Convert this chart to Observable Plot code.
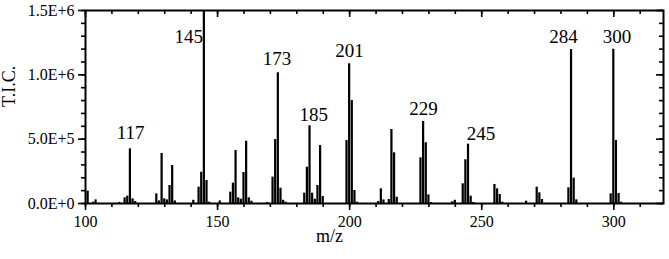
<!DOCTYPE html>
<html>
<head>
<meta charset="utf-8">
<script src="https://cdn.jsdelivr.net/npm/d3@7"></script>
<script src="https://cdn.jsdelivr.net/npm/@observablehq/plot@0.6"></script>
<style>
  html, body { margin: 0; padding: 0; background: #fff; }
  #chart { width: 669px; height: 259px; }
  #chart svg, #chart svg text { font-family: 'Liberation Serif', 'Times New Roman', serif !important; }
  #chart g[aria-label$="tick label"] { font-size: 16px !important; }
</style>
</head>
<body>
<div id="chart"></div>
<script>
// m/z values and total ion counts
const mz = [101,103,104,113,115,116,117,118,119,127,128,129,130,131,132,133,134,
  141,143,144,145,146,147,151,155,156,157,158,159,160,161,162,163,169,
  171,172,173,174,175,176,183,184,185,186,187,188,189,190,
  199,200,201,202,203,211,212,213,215,216,217,218,
  227,228,229,230,231,239,240,243,244,245,246,247,
  255,256,257,258,267,271,272,273,283,284,285,286,299,300,301,302,303];
const tic = [96000,10000,28000,8000,44000,57000,425000,36000,16000,75000,20000,389000,36000,28000,140000,295000,20000,
  25000,127000,243000,1500000,179000,10000,20000,88000,158000,412000,44000,33000,241000,484000,44000,18000,8000,
  205000,497000,1016000,119000,25000,10000,80000,282000,604000,80000,33000,140000,451000,54000,
  490000,1086000,800000,101000,10000,16000,114000,28000,31000,575000,394000,49000,
  355000,637000,472000,67000,8000,13000,25000,153000,340000,461000,57000,8000,
  148000,114000,70000,10000,18000,127000,83000,31000,122000,1197000,197000,28000,75000,1199000,490000,78000,10000];

// peak annotations (text, anchor in data units)
const peakLabels = ["117","145","173","185","201","229","245","284","300"];
const peakLabelMz = [117.1,139.1,172.5,186.4,199.9,228,249.7,281,301.2];
const peakLabelTic = [505000,1251000,1073000,645000,1135000,684000,490000,1251000,1251000];

// axis ticks
const xMajor = [100,150,200,250,300];
const xMinor = d3.range(100, 320, 10);
const yMajor = [0,500000,1000000,1500000];
const yMinor = d3.range(0, 1500001, 100000);

const W = 669, H = 259;
const mL = 85, mR = 6, mT = 10, mB = 56;
const plotW = W - mL - mR, plotH = H - mT - mB;

const bars = mz.map((m, i) => ({mz: m, tic: tic[i]}));
const labels = peakLabels.map((t, i) => ({text: t, mz: peakLabelMz[i], tic: peakLabelTic[i]}));

const fmtY = d => d.toExponential(1).toUpperCase();

const chart = Plot.plot({
  width: W,
  height: H,
  marginLeft: mL,
  marginRight: mR,
  marginTop: mT,
  marginBottom: mB,
  style: {fontFamily: "'Liberation Serif', 'Times New Roman', serif", fontSize: "16px", color: "#000", background: "#fff"},
  x: {domain: [100, 100 + plotW / 2.6415], label: null},
  y: {domain: [0, 1500000], label: null},
  marks: [
    Plot.rectY(bars, {x1: d => d.mz - 0.42, x2: d => d.mz + 0.42, y1: 0, y2: "tic", fill: "#000", inset: 0, clip: true}),
    // bottom & left outward ticks
    Plot.axisX({ticks: xMajor, tickSize: 7, tickPadding: 5, strokeWidth: 1.6, tickFormat: d => String(d)}),
    Plot.axisX({ticks: xMinor, tickSize: 4, strokeWidth: 1.6, tickFormat: () => ""}),
    Plot.axisY({ticks: yMajor, tickSize: 7, tickPadding: 4, strokeWidth: 1.6, tickFormat: fmtY}),
    Plot.axisY({ticks: yMinor, tickSize: 4, strokeWidth: 1.6, tickFormat: () => ""}),
    // mirrored inward ticks on top & right
    Plot.tickX(xMinor, {x: d => d, insetBottom: plotH - 4, strokeWidth: 1.6}),
    Plot.tickX(xMajor, {x: d => d, insetBottom: plotH - 7, strokeWidth: 1.6}),
    Plot.tickY(yMinor, {y: d => d, insetLeft: plotW - 4, strokeWidth: 1.6}),
    Plot.tickY(yMajor, {y: d => d, insetLeft: plotW - 7, strokeWidth: 1.6}),
    Plot.frame({stroke: "#000", strokeWidth: 2}),
    Plot.text(labels, {x: "mz", y: "tic", text: "text", lineAnchor: "bottom", fontSize: 19, fill: "#000"}),
    Plot.text(["m/z"], {frameAnchor: "bottom", dx: -45, dy: 38, lineAnchor: "bottom", fontSize: 18, fill: "#000"}),
    Plot.text(["T.I.C."], {frameAnchor: "left", dx: -76, rotate: -90, lineAnchor: "middle", fontSize: 18, fill: "#000"})
  ]
});
document.getElementById("chart").appendChild(chart);
</script>
</body>
</html>
